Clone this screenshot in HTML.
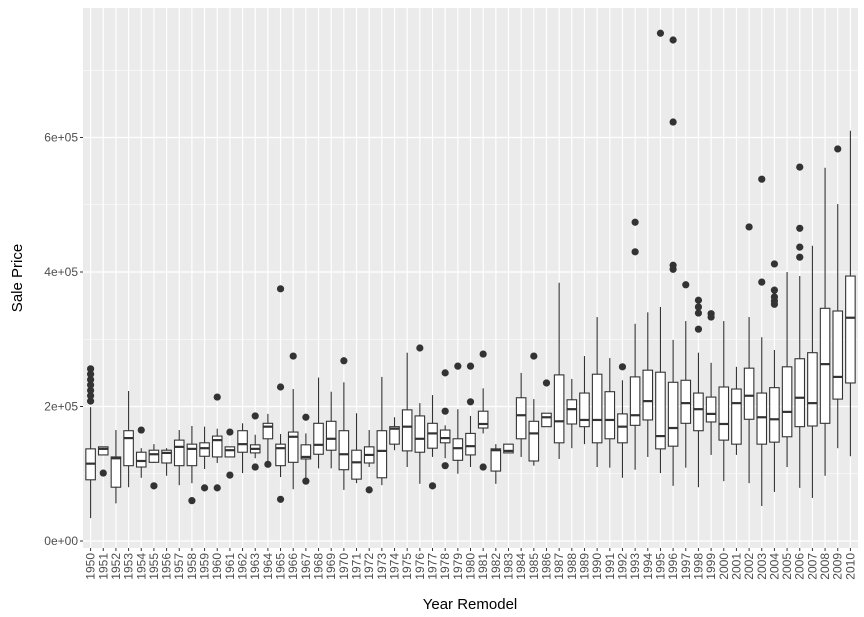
<!DOCTYPE html>
<html><head><meta charset="utf-8"><style>
html,body{margin:0;padding:0;background:#fff;}
svg{display:block;font-family:"Liberation Sans",sans-serif;}
</style></head><body>
<svg id="chart" width="864" height="617" xmlns="http://www.w3.org/2000/svg">
<rect x="83" y="8" width="775" height="540" fill="#ebebeb"/>
<g id="grid"></g>
<g id="marks"></g>
<g id="yaxis"></g>
<g id="xaxis"></g>
<text x="470" y="609" text-anchor="middle" font-size="15" fill="#000">Year Remodel</text>
<text transform="translate(22,278) rotate(-90)" text-anchor="middle" font-size="15" fill="#000">Sale Price</text>
</svg>
<script>
const years = [];
for (let y = 1950; y <= 2010; y++) years.push(String(y));
const lo  = [34,128,56,80,94,116,97,83,86,107,116,125,101,123,115,95,77,93,108,108,76,86,110,83,135,110,85,125,123,100,110,160,85,131,125,112,170,122,138,144,110,109,94,106,125,101,82,109,80,128,89,128,86,52,73,110,79,64,97,138,126];
const q1  = [91,128,80,112,110,117,116,112,112,126,125,125,132,131,152,112,117,122,129,135,106,92,116,94,144,134,132,138,146,120,128,168,104,131,152,119,170,146,174,170,146,152,146,172,180,137,141,175,164,177,150,144,181,144,147,155,170,171,175,211,235];
const med = [115,137,123,153,119,129,131,140,137,138,150,135,144,137,170,138,155,125,143,152,129,117,128,134,167,170,152,160,153,138,141,174,135,134,187,160,184,178,196,180,180,180,170,187,208,156,168,205,196,189,174,205,216,184,181,192,213,205,263,244,332];
const q3  = [137,140,125,164,132,135,135,150,144,146,156,140,164,143,175,144,162,143,175,178,164,135,140,164,170,195,186,175,165,152,160,193,137,144,213,178,190,247,210,220,248,222,189,244,254,251,236,239,220,214,229,226,257,220,228,259,271,280,346,342,394];
const hi  = [199,140,165,223,138,144,138,165,171,170,167,138,175,158,189,159,226,160,243,222,236,190,165,244,184,280,205,217,172,196,186,227,144,144,250,211,190,384,241,275,333,272,239,323,340,348,299,327,280,265,327,259,333,303,284,400,394,439,555,501,610];
const outliers = [[208,216,224,232,240,248,256],[101],[],[],[165],[82],[],[],[60],[79],[214,79],[162,98],[],[186,110],[114],[229,62,375],[275],[184,89],[],[],[268],[],[76],[],[],[],[287],[82],[250,193,112],[260],[260,207],[278,110],[],[],[],[275],[235],[],[],[],[],[],[259],[474,430],[],[755],[410,404,623,745],[381],[358,348,339,315],[338,333],[],[],[467],[538,385],[412,373,363,357,352],[],[556,465,437,422],[],[],[583],[]];
const yTicks = [0,200000,400000,600000];
const yTickLabels = ["0e+00","2e+05","4e+05","6e+05"];
const yMinor = [100000,300000,500000,700000];

const NS = "http://www.w3.org/2000/svg";
const panelL = 83, panelR = 858, panelT = 8, panelB = 548;
const step = (panelR - panelL) / (years.length - 1 + 1.2);
function xPos(i){ return panelL + (0.6 + i) * step; }
function yPos(v){ return 541 - v / 200000 * 134.5; }
function yK(k){ return yPos(k * 1000); }
function mk(tag, attrs, parent){
  const e = document.createElementNS(NS, tag);
  for (const k in attrs) e.setAttribute(k, attrs[k]);
  parent.appendChild(e);
  return e;
}
const grid = document.getElementById("grid");
const marks = document.getElementById("marks");
const yaxis = document.getElementById("yaxis");
const xaxis = document.getElementById("xaxis");

yMinor.forEach(v => {
  const l = mk("line", {x1:panelL, x2:panelR, y1:yPos(v), y2:yPos(v), stroke:"#fff", "stroke-width":0.6}, grid);
  
  
});
yTicks.forEach((v, i) => {
  const l = mk("line", {x1:panelL, x2:panelR, y1:yPos(v), y2:yPos(v), stroke:"#fff", "stroke-width":1.2}, grid);
  
  
  const t = mk("line", {x1:panelL-3, x2:panelL, y1:yPos(v), y2:yPos(v), stroke:"#333", "stroke-width":1}, yaxis);
  
  
  const tx = mk("text", {x:panelL-5, y:yPos(v)+4, "text-anchor":"end", "font-size":12, fill:"#4d4d4d"}, yaxis);
  tx.textContent = yTickLabels[i];
  
  
});
years.forEach((yr, i) => {
  const x = xPos(i);
  const g = mk("line", {x1:x, x2:x, y1:panelT, y2:panelB, stroke:"#fff", "stroke-width":1.2}, grid);
  
  
  const t = mk("line", {x1:x, x2:x, y1:panelB, y2:panelB+3, stroke:"#333", "stroke-width":1}, xaxis);
  
  
  const tx = mk("text", {transform:"translate("+(x+4)+","+(panelB+5)+") rotate(-90)", "text-anchor":"end", "font-size":12, fill:"#4d4d4d"}, xaxis);
  tx.textContent = yr;
  
  

  const bw = step * 0.75;
  const grp = mk("g", {}, marks);
  
  
  const w1 = mk("line", {x1:x, x2:x, y1:yK(hi[i]), y2:yK(q3[i]), stroke:"#333", "stroke-width":1.1}, grp);
  
  
  const w2 = mk("line", {x1:x, x2:x, y1:yK(q1[i]), y2:yK(lo[i]), stroke:"#333", "stroke-width":1.1}, grp);
  
  
  const r = mk("rect", {x:x-bw/2, y:yK(q3[i]), width:bw, height:Math.max(0.5, yK(q1[i])-yK(q3[i])), fill:"#fff", stroke:"#333", "stroke-width":1.1}, grp);
  
  
  const m = mk("line", {x1:x-bw/2, x2:x+bw/2, y1:yK(med[i]), y2:yK(med[i]), stroke:"#333", "stroke-width":2.2}, grp);
  
  
  outliers[i].forEach(o => {
    const c = mk("circle", {cx:x, cy:yK(o), r:3.6, fill:"#333"}, grp);
    
    
  });
});
</script>
</body></html>
